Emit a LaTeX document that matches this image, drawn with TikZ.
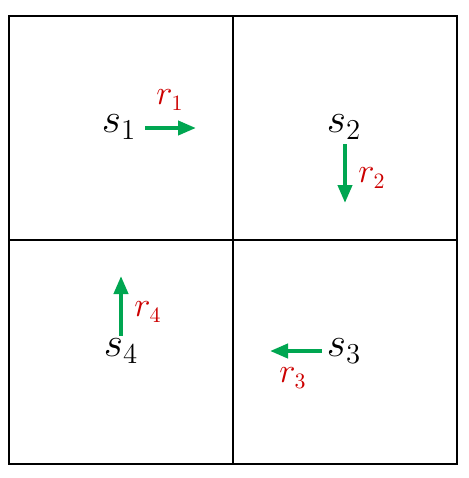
\documentclass[tikz,border=0pt]{standalone}
\usetikzlibrary{arrows.meta}
\definecolor{arrgreen}{RGB}{0,166,81}
\definecolor{rewred}{RGB}{204,0,0}
\begin{document}
\begin{tikzpicture}[x=0.5pt,y=-0.5pt,
  grid/.style={line width=1pt},
  state/.style={inner sep=0pt,font=\fontsize{20.5}{24}\selectfont},
  rew/.style={inner sep=0pt,text=rewred,font=\fontsize{16}{19}\selectfont},
  act/.style={draw=arrgreen,line width=2pt,-{Triangle[length=9pt,width=7pt]}}]
\useasboundingbox (0,0) rectangle (468,478);
\draw[grid] (9,16) rectangle (457,464);
\draw[grid] (233,16) -- (233,464);
\draw[grid] (9,240) -- (457,240);
\node[state] (s1) at (119,127) {$s_1$};
\node[state] (s2) at (344,127) {$s_2$};
\node[state] (s3) at (344,351) {$s_3$};
\node[state] (s4) at (121,351) {$s_4$};
\coordinate (a1s) at (145,128); \coordinate (a1e) at (196,128);
\coordinate (a2s) at (345,144); \coordinate (a2e) at (345,203);
\coordinate (a3s) at (322,351); \coordinate (a3e) at (270,351);
\coordinate (a4s) at (121,336); \coordinate (a4e) at (121,276);
\draw[act] (a1s) -- (a1e);
\draw[act] (a2s) -- (a2e);
\draw[act] (a3s) -- (a3e);
\draw[act] (a4s) -- (a4e);
\node[rew] (r1) at (170,100) {$r_1$};
\node[rew] (r2) at (372,178) {$r_2$};
\node[rew] (r3) at (293,378) {$r_3$};
\node[rew] (r4) at (148,312) {$r_4$};
\end{tikzpicture}
\end{document}
